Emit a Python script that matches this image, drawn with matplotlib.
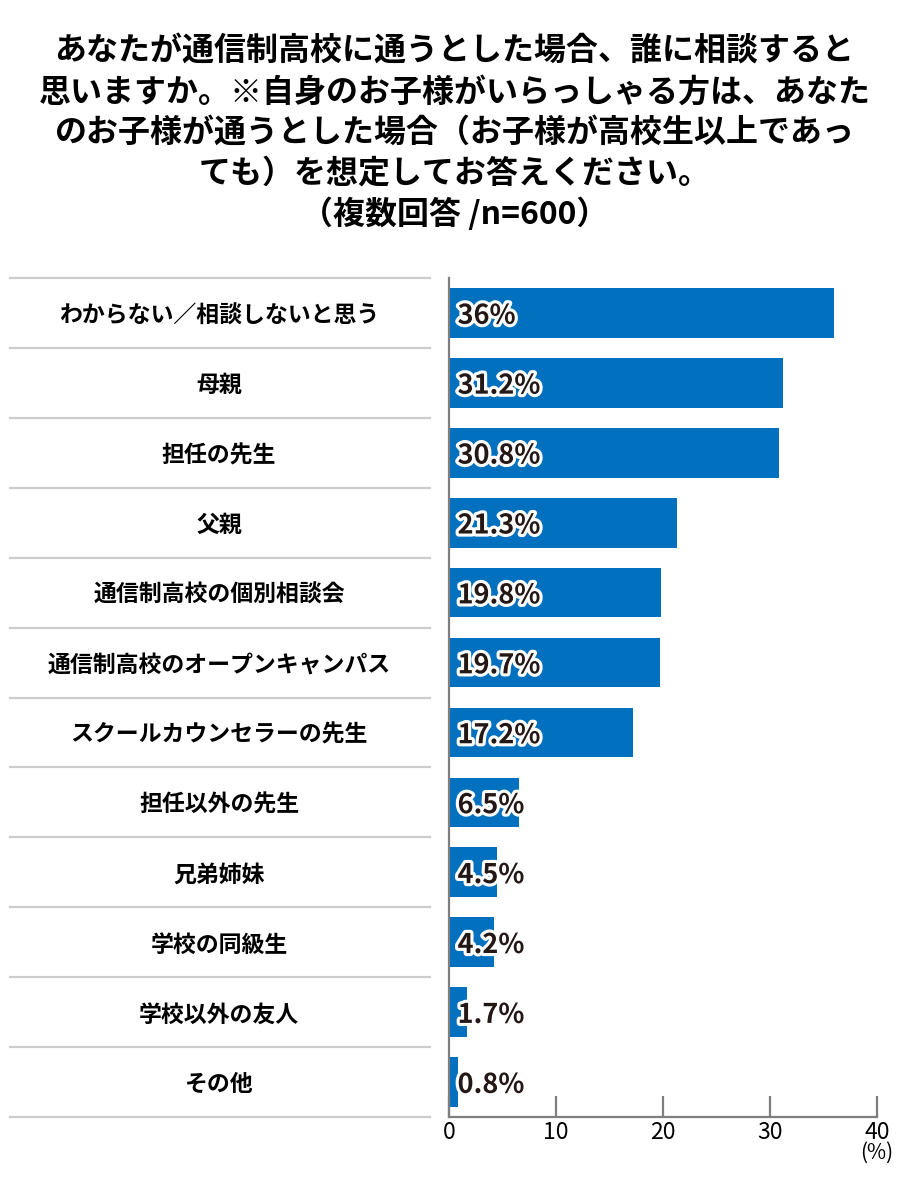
import matplotlib.pyplot as plt
import matplotlib.patheffects as pe
from matplotlib.transforms import blended_transform_factory

plt.rcParams['font.family'] = ['Noto Sans CJK JP', 'DejaVu Sans']

# Chart data
categories = ["わからない／相談しないと思う", "母親", "担任の先生", "父親",
              "通信制高校の個別相談会", "通信制高校のオープンキャンパス",
              "スクールカウンセラーの先生", "担任以外の先生", "兄弟姉妹",
              "学校の同級生", "学校以外の友人", "その他"]
values = [36, 31.2, 30.8, 21.3, 19.8, 19.7, 17.2, 6.5, 4.5, 4.2, 1.7, 0.8]
xticks = [0, 10, 20, 30, 40]
title_lines = ["あなたが通信制高校に通うとした場合、誰に相談すると",
               "思いますか。※自身のお子様がいらっしゃる方は、あなた",
               "のお子様が通うとした場合（お子様が高校生以上であっ",
               "ても）を想定してお答えください。",
               "（複数回答 /n=600）"]

W, H = 900, 1190
fig = plt.figure(figsize=(W / 100, H / 100), dpi=100)
ax = fig.add_axes([449 / W, 1 - 1117 / H, 428 / W, 839 / H])

ypos = list(range(len(categories)))
ax.barh(ypos, values, height=0.71, color="#0070bf")
ax.set_ylim(len(categories) - 0.5, -0.5)
ax.set_xlim(0, 40)

# value labels: dark text with white outline (nudged down a little)
for y, v in zip(ypos, values):
    ax.text(0.8, y + 0.04, f"{v:g}%", ha="left", va="center", fontsize=19.5,
            fontweight="bold", color="#231815",
            path_effects=[pe.withStroke(linewidth=4.5, foreground="white")])

# category labels and separators on the left
trans = blended_transform_factory(fig.transFigure, ax.transData)
for y, c in zip(ypos, categories):
    ax.text(219 / W, y + 0.04, c, transform=trans, ha="center", va="center",
            fontsize=16.5, fontweight="bold", color="black")
for i in range(len(categories) + 1):
    ax.plot([10 / W, 430 / W], [i - 0.5, i - 0.5], transform=trans,
            color="#cccccc", lw=1.6, clip_on=False)

for s in ["top", "right"]:
    ax.spines[s].set_visible(False)
for s in ["left", "bottom"]:
    ax.spines[s].set_color("#7f7f7f")
    ax.spines[s].set_linewidth(1.6)
ax.set_yticks([])
ax.set_xticks(xticks)
ax.set_xticklabels([str(t) for t in xticks], fontsize=16.5)
ax.tick_params(axis="x", direction="in", length=15, width=1.6,
               color="#7f7f7f", pad=3)
fig.text(877 / W, 1 - 1153 / H, "(%)", ha="center", va="center", fontsize=15)

title_y = [52, 93, 133, 174, 214]
for ty, line in zip(title_y, title_lines):
    fig.text(0.505, 1 - ty / H, line, ha="center", va="center",
             fontsize=23, fontweight="bold")

fig.savefig("out.png", dpi=100)
